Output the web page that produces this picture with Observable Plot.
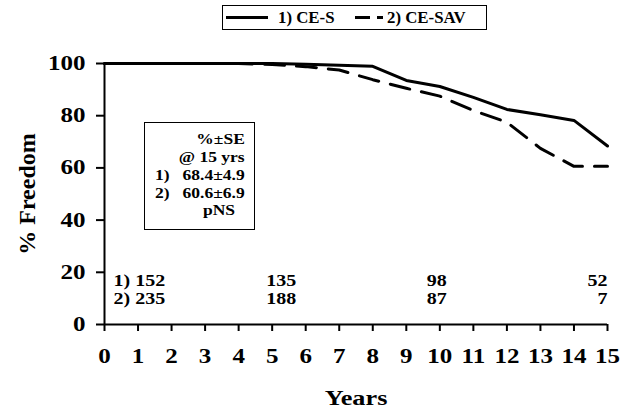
<!DOCTYPE html>
<html>
<head>
<meta charset="utf-8">
<script src="https://cdn.jsdelivr.net/npm/d3@7"></script>
<script src="https://cdn.jsdelivr.net/npm/@observablehq/plot@0.6"></script>
<style>
  html, body { margin: 0; padding: 0; background: white; }
  #wrap { position: relative; width: 634px; height: 412px; overflow: hidden; font-family: "Liberation Serif", "Times New Roman", serif; font-weight: bold; color: black; }
  #chart { position: absolute; left: 0; top: 0; }
  .abs { position: absolute; white-space: nowrap; line-height: 1; }
  .st { display: inline-block; transform: scaleX(1.25); }
</style>
</head>
<body>
<div id="wrap">
  <div id="chart"></div>
  <div id="legend" class="abs" style="left:222px; top:5px; width:263px; height:23px; border:1.5px solid black;"></div>
  <div id="inset" class="abs" style="left:144px; top:122px; width:109px; height:106px; border:1.5px solid black;"></div>
</div>
<script>
// ---- data ----
const years = [0, 1, 2, 3, 4, 5, 6, 7, 8, 9, 10, 11, 12, 13, 14, 15];
const ceS   = [100, 100, 100, 100, 100, 100, 99.7, 99.3, 98.9, 93.5, 91.2, 87.0, 82.4, 80.4, 78.2, 68.4];
const ceSAV = [100, 100, 100, 100, 100, 99.6, 98.8, 97.5, 93.8, 90.5, 87.5, 82.0, 77.5, 67.5, 60.6, 60.6];
const seriesNames = ["1) CE-S", "2) CE-SAV"];
const xTicks = [0, 1, 2, 3, 4, 5, 6, 7, 8, 9, 10, 11, 12, 13, 14, 15];
const yTicks = [0, 20, 40, 60, 80, 100];
const riskYears = [0, 5, 10, 15];
const riskCES   = [152, 135, 98, 52];
const riskCESAV = [235, 188, 87, 7];
const insetTitle = ["%±SE", "@ 15 yrs"];
const insetRowLabels = ["1)", "2)"];
const insetValues = ["68.4±4.9", "60.6±6.9"];
const insetP = "pNS";
const yLabel = "% Freedom";
const xLabel = "Years";

const dataS = years.map((x, i) => ({x, y: ceS[i]}));
const dataSAV = years.map((x, i) => ({x, y: ceSAV[i]}));

function riskRows(values, prefix) {
  return riskYears.map((x, i) => ({x, label: (i === 0 ? prefix + " " : "") + values[i]}));
}
const r1 = riskRows(riskCES, "1)");
const r2 = riskRows(riskCESAV, "2)");

const fs = 16;
function riskMarks(rows, dy) {
  const common = {x: "x", text: "label", frameAnchor: "bottom", lineAnchor: "middle", dy, fontSize: fs};
  return [
    Plot.text(rows.filter((d, i) => i === 0), {...common, dx: 9, textAnchor: "start"}),
    Plot.text(rows.filter((d, i) => i === 1), {...common, dx: -6, textAnchor: "start"}),
    Plot.text(rows.filter((d, i) => i === 2), {...common, dx: -13, textAnchor: "start"}),
    Plot.text(rows.filter((d, i) => i === 3), {...common, dx: 0, textAnchor: "end"})
  ];
}

const svg = Plot.plot({
  width: 634,
  height: 412,
  marginTop: 63,
  marginBottom: 88,
  marginLeft: 104,
  marginRight: 27,
  x: {domain: [0, 15]},
  y: {domain: [0, 100]},
  style: {fontFamily: "'Liberation Serif', 'Times New Roman', serif", fontWeight: "bold", background: "white", color: "black"},
  marks: [
    Plot.axisY({ticks: yTicks, tickSize: 8, tickPadding: 11, fontSize: 20, strokeWidth: 2, label: null}),
    Plot.axisX({ticks: xTicks, tickSize: 7, tickPadding: 17, fontSize: 20, strokeWidth: 2, label: null, tickFormat: d => String(d)}),
    Plot.ruleX([0], {strokeWidth: 2}),
    Plot.ruleY([0], {strokeWidth: 2}),
    Plot.line(dataSAV, {x: "x", y: "y", stroke: "black", strokeWidth: 3, strokeDasharray: "20,12", strokeLinejoin: "round"}),
    Plot.line(dataS, {x: "x", y: "y", stroke: "black", strokeWidth: 3, strokeLinejoin: "round"}),
    ...riskMarks(r1, -44),
    ...riskMarks(r2, -26),
    Plot.text([yLabel], {text: d => d, frameAnchor: "left", textAnchor: "middle", lineAnchor: "middle", rotate: -90, dx: -77, fontSize: 24}),
    Plot.text([xLabel], {text: d => d, frameAnchor: "bottom", textAnchor: "middle", lineAnchor: "middle", dy: 74, fontSize: 21})
  ]
});
document.getElementById("chart").appendChild(svg);

// horizontally stretch (non-rotated) text to mimic the wide serif of the original
function stretchSvgText(root, s) {
  root.querySelectorAll("text").forEach(t => {
    if ((t.getAttribute("transform") || "").includes("rotate")) return;
    const r = t.getBoundingClientRect();
    const anchor = getComputedStyle(t).textAnchor;
    const ax = anchor === "end" ? r.right : anchor === "middle" ? (r.left + r.right) / 2 : r.left;
    const parent = t.parentNode;
    const m = parent.getScreenCTM();
    const px = (ax - m.e) / m.a;
    const g = document.createElementNS("http://www.w3.org/2000/svg", "g");
    g.setAttribute("transform", `translate(${px},0) scale(${s},1) translate(${-px},0)`);
    parent.insertBefore(g, t);
    g.appendChild(t);
  });
}
stretchSvgText(svg, 1.25);

// legend
const legend = document.getElementById("legend");
function sample(left, dash) {
  return `<svg class="abs" style="left:${left}px; top:0px;" width="44" height="23"><line x1="0" x2="${dash ? 28 : 42}" y1="11.5" y2="11.5" stroke="black" stroke-width="3" ${dash ? 'stroke-dasharray="15,7"' : ''}/></svg>`;
}
legend.innerHTML =
  sample(3, false) +
  `<span class="abs" style="left:55px; top:4px; font-size:16px;"><span class="st" style="transform:scaleX(1.05); transform-origin:left;">${seriesNames[0]}</span></span>` +
  sample(132, true) +
  `<span class="abs" style="left:164px; top:4px; font-size:16px;"><span class="st" style="transform:scaleX(1.05); transform-origin:left;">${seriesNames[1]}</span></span>`;

// inset box
const inset = document.getElementById("inset");
const rowY = [17, 35, 53, 71, 88];
const ifs = 14;
let html = "";
insetTitle.forEach((t, i) => {
  html += `<span class="abs" style="right:9px; top:${rowY[i] - 7}px; font-size:${ifs}px;"><span class="st" style="transform-origin:right;">${t}</span></span>`;
});
insetRowLabels.forEach((t, i) => {
  html += `<span class="abs" style="left:10px; top:${rowY[i + 2] - 7}px; font-size:${ifs}px;"><span class="st" style="transform-origin:left;">${t}</span></span>`;
  html += `<span class="abs" style="right:9px; top:${rowY[i + 2] - 7}px; font-size:${ifs}px;"><span class="st" style="transform-origin:right;">${insetValues[i]}</span></span>`;
});
html += `<span class="abs" style="left:74px; top:${rowY[4] - 7}px; font-size:${ifs}px; transform:translateX(-50%);"><span class="st">${insetP}</span></span>`;
inset.innerHTML = html;
</script>
</body>
</html>
